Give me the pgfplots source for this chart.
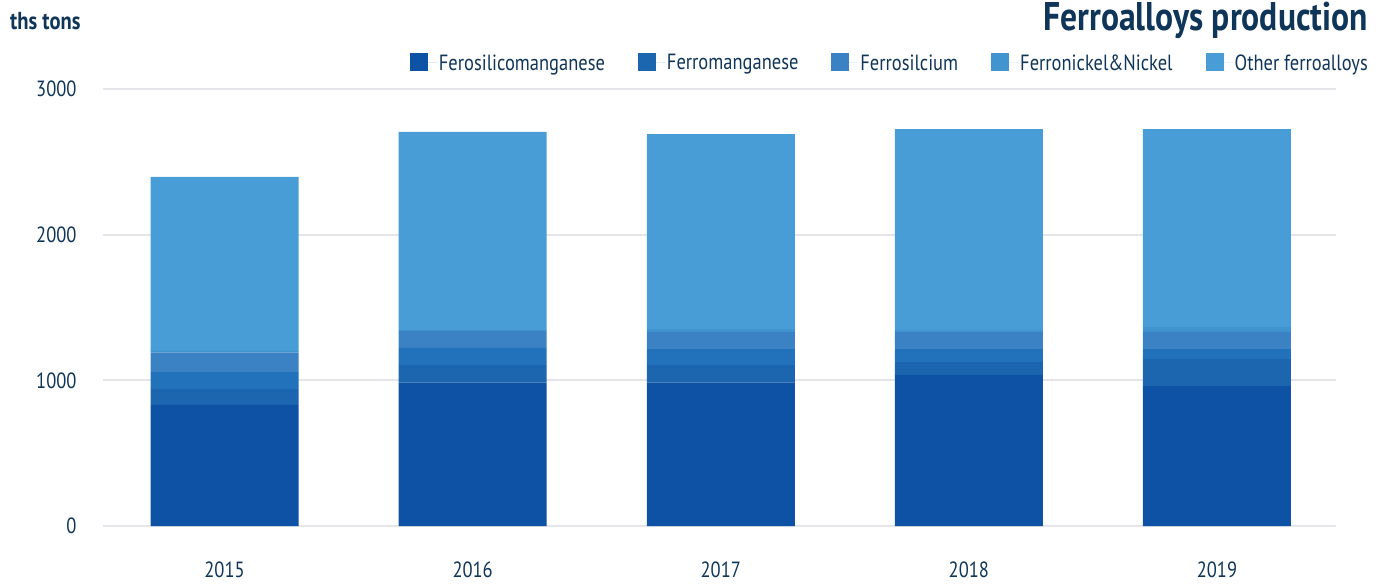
\documentclass[border=0pt]{standalone}
\usepackage{fontspec}
\setmainfont[FakeStretch=0.84]{PT Sans}
\usepackage{pgfplots}
\pgfplotsset{compat=1.18}

\definecolor{cFSM}{HTML}{0D52A5}
\definecolor{cFMn}{HTML}{1C66B0}
\definecolor{cMid}{HTML}{2272BB}
\definecolor{cFSi}{HTML}{3A82C4}
\definecolor{cFNi}{HTML}{4294CF}
\definecolor{cOth}{HTML}{489DD6}
\definecolor{txt}{HTML}{0F3558}
\definecolor{gridc}{HTML}{E4E4EA}

\begin{document}
\begin{tikzpicture}[x=1pt,y=1pt]
\useasboundingbox (0,0) rectangle (1381,584);
\begin{axis}[
  at={(103pt,58pt)}, anchor=south west,
  scale only axis, width=1233pt, height=437pt,
  ybar stacked, bar width=148pt,
  ymin=0, ymax=3000, xmin=-0.49, xmax=4.48,
  ytick={0,1000,2000,3000},
  xtick={0,1,2,3,4},
  xticklabels={2015,2016,2017,2018,2019},
  axis line style={draw=none},
  major tick length=0pt,
  ymajorgrids, grid style={gridc, line width=2pt},
  /pgf/number format/assume math mode=true,
  /pgf/number format/1000 sep={},
  tick label style={font=\fontsize{22}{26}\selectfont, text=txt},
  yticklabel style={anchor=east, xshift=-23pt},
  xticklabel style={anchor=north, yshift=-32pt},
  every axis plot/.append style={draw=none},
  legend columns=5,
  legend style={draw=none, fill=none, at={(axis description cs:1,1)}, anchor=east,
    xshift=37pt, yshift=26pt, font=\fontsize{22}{26}\selectfont, text=txt,
    /tikz/every even column/.append style={column sep=31pt}},
  legend image code/.code={\fill[#1] (0pt,-8pt) rectangle (18pt,10pt); \path (0pt,0pt) -- (27pt,0pt);},
]
\addplot[fill=cFSM] coordinates {(0,831) (1,984) (2,984) (3,1037) (4,961)};
\addlegendentry{Ferosilicomanganese}
\addplot[fill=cFMn] coordinates {(0,109) (1,121) (2,121) (3,89) (4,185)};
\addlegendentry{Ferromanganese}
\addplot[fill=cMid, forget plot] coordinates {(0,117) (1,117) (2,110) (3,89) (4,69)};
\addplot[fill=cFSi] coordinates {(0,133) (1,118) (2,117) (3,117) (4,117)};
\addlegendentry{Ferrosilcium}
\addplot[fill=cFNi] coordinates {(0,13) (1,5) (2,20) (3,13) (4,34)};
\addlegendentry{Ferronickel\&Nickel}
\addplot[fill=cOth] coordinates {(0,1193) (1,1360) (2,1339) (3,1380) (4,1359)};
\addlegendentry{Other ferroalloys}
\end{axis}
\node[anchor=base east, inner sep=0pt, text=txt, font=\bfseries\fontsize{40}{46}\selectfont] at (1368,553) {Ferroalloys production};
\node[anchor=base west, inner sep=0pt, text=txt, font=\bfseries\fontsize{24.5}{28}\selectfont] at (10,554) {ths tons};
\end{tikzpicture}
\end{document}
